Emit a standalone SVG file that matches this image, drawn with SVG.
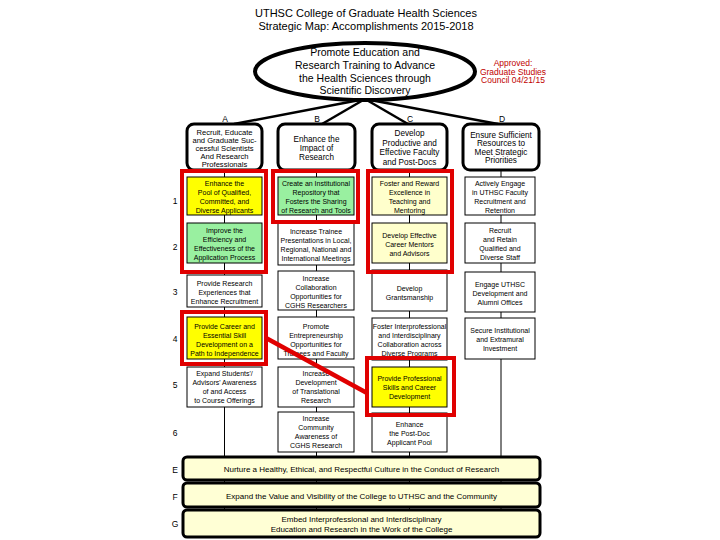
<svg xmlns="http://www.w3.org/2000/svg" width="720" height="540" viewBox="0 0 720 540">
<style>
text{font-family:"Liberation Sans",Arial,sans-serif;fill:#000;text-anchor:middle}
.t{font-size:11px}
.g{font-size:10.5px}
.h{font-size:8.2px}
.hs{font-size:7.6px}
.b{font-size:7px}
.lbl{font-size:8.5px}
.bar{font-size:8px}
.appr{font-size:8.5px;fill:#c00000}
.hdr{fill:#fff;stroke:#000;stroke-width:3}
.box{fill:#fff;stroke:#000;stroke-width:1}
.yel{fill:#ffff00}
.grn{fill:#99f0a0}
.ltY{fill:#ffffcc}
.barR{fill:#ffffd5;stroke:#000;stroke-width:3}
.red{fill:none;stroke:#e00000;stroke-width:4}
.fan{stroke:#000;stroke-width:2.5}
.vl{stroke:#000;stroke-width:1}
</style>
<rect width="720" height="540" fill="#fff"/>
<g id="title">
<text class="t" x="366" y="17">UTHSC College of Graduate Health Sciences</text>
<text class="t" x="366" y="30">Strategic Map: Accomplishments 2015-2018</text>
</g>
<g id="approved">
<text class="appr" x="513" y="66">Approved:</text>
<text class="appr" x="513" y="74.5">Graduate Studies</text>
<text class="appr" x="513" y="83">Council 04/21/15</text>
</g>
<g id="connectors">
<line class="fan" x1="365" y1="99" x2="234" y2="124"/>
<line class="fan" x1="365" y1="99" x2="322" y2="124"/>
<line class="fan" x1="365" y1="99" x2="408" y2="124"/>
<line class="fan" x1="365" y1="99" x2="498" y2="124"/>
<line class="vl" x1="224.5" y1="170" x2="224.5" y2="510"/>
<line class="vl" x1="316.5" y1="170" x2="316.5" y2="510"/>
<line class="vl" x1="409.5" y1="170" x2="409.5" y2="510"/>
<line class="vl" x1="501" y1="170" x2="501" y2="510"/>
</g>
<g id="goal">
<ellipse cx="365" cy="71.5" rx="110" ry="28.5" fill="#fff" stroke="#000" stroke-width="4"/>
<text class="g" x="365" y="56">Promote Education and</text>
<text class="g" x="365" y="69">Research Training to Advance</text>
<text class="g" x="365" y="81.5">the Health Sciences through</text>
<text class="g" x="365" y="94">Scientific Discovery</text>
</g>
<g id="labels">
<text class="lbl" x="225" y="122">A</text>
<text class="lbl" x="317" y="122">B</text>
<text class="lbl" x="410" y="122">C</text>
<text class="lbl" x="502" y="122">D</text>
<text class="lbl" x="175" y="204">1</text>
<text class="lbl" x="175" y="250">2</text>
<text class="lbl" x="175" y="295">3</text>
<text class="lbl" x="175" y="342">4</text>
<text class="lbl" x="175" y="388">5</text>
<text class="lbl" x="175" y="436">6</text>
<text class="lbl" x="175" y="473">E</text>
<text class="lbl" x="175" y="500">F</text>
<text class="lbl" x="175" y="527">G</text>
</g>
<g id="headA"><rect class="hdr" x="187" y="124" width="75" height="46" rx="7"/>
<text class="hs" x="224.5" y="135">Recruit, Educate</text><text class="hs" x="224.5" y="143">and Graduate Suc-</text><text class="hs" x="224.5" y="151">cessful Scientists</text><text class="hs" x="224.5" y="159">And Research</text><text class="hs" x="224.5" y="167">Professionals</text></g>
<g id="headB"><rect class="hdr" x="278" y="124" width="77" height="46" rx="7"/>
<text class="h" x="316.5" y="142">Enhance the</text><text class="h" x="316.5" y="151">Impact of</text><text class="h" x="316.5" y="160">Research</text></g>
<g id="headC"><rect class="hdr" x="372" y="124" width="75" height="46" rx="7"/>
<text class="h" x="409.5" y="136">Develop</text><text class="h" x="409.5" y="145.5">Productive and</text><text class="h" x="409.5" y="155">Effective Faculty</text><text class="h" x="409.5" y="164.5">and Post-Docs</text></g>
<g id="headD"><rect class="hdr" x="463" y="124" width="76" height="46" rx="7"/>
<text class="h" x="501" y="137.5">Ensure Sufficient</text><text class="h" x="501" y="146">Resources to</text><text class="h" x="501" y="154.5">Meet Strategic</text><text class="h" x="501" y="163">Priorities</text></g>

<g id="A1"><rect class="box yel" x="187" y="177" width="75" height="38"/>
<text class="b" x="224.5" y="186">Enhance the</text><text class="b" x="224.5" y="195">Pool of Qualified,</text><text class="b" x="224.5" y="204">Committed, and</text><text class="b" x="224.5" y="213">Diverse Applicants</text></g>
<g id="B1"><rect class="box grn" x="278" y="177" width="76" height="38"/>
<text class="b" x="316" y="186">Create an Institutional</text><text class="b" x="316" y="195">Repository that</text><text class="b" x="316" y="204">Fosters the Sharing</text><text class="b" x="316" y="213">of Research and Tools</text></g>
<g id="C1"><rect class="box ltY" x="372" y="177" width="75" height="38"/>
<text class="b" x="409.5" y="186">Foster and Reward</text><text class="b" x="409.5" y="195">Excellence in</text><text class="b" x="409.5" y="204">Teaching and</text><text class="b" x="409.5" y="213">Mentoring</text></g>
<g id="D1"><rect class="box" x="465" y="177" width="70" height="38"/>
<text class="b" x="500" y="186">Actively Engage</text><text class="b" x="500" y="195">in UTHSC Faculty</text><text class="b" x="500" y="204">Recruitment and</text><text class="b" x="500" y="213">Retention</text></g>

<g id="A2"><rect class="box grn" x="187" y="223" width="75" height="40"/>
<text class="b" x="224.5" y="233">Improve the</text><text class="b" x="224.5" y="242">Efficiency and</text><text class="b" x="224.5" y="251">Effectiveness of the</text><text class="b" x="224.5" y="260">Application Process</text></g>
<g id="B2"><rect class="box" x="278" y="223" width="76" height="42"/>
<text class="b" x="316" y="234">Increase Trainee</text><text class="b" x="316" y="243">Presentations in Local,</text><text class="b" x="316" y="252">Regional, National and</text><text class="b" x="316" y="261">International Meetings</text></g>
<g id="C2"><rect class="box ltY" x="372" y="223" width="75" height="40"/>
<text class="b" x="409.5" y="238">Develop Effective</text><text class="b" x="409.5" y="247">Career Mentors</text><text class="b" x="409.5" y="256">and Advisors</text></g>
<g id="D2"><rect class="box" x="465" y="223" width="70" height="40"/>
<text class="b" x="500" y="233">Recruit</text><text class="b" x="500" y="242">and  Retain</text><text class="b" x="500" y="251">Qualified and</text><text class="b" x="500" y="260">Diverse Staff</text></g>

<g id="A3"><rect class="box" x="187" y="275" width="75" height="32"/>
<text class="b" x="224.5" y="286">Provide Research</text><text class="b" x="224.5" y="295">Experiences that</text><text class="b" x="224.5" y="304">Enhance Recruitment</text></g>
<g id="B3"><rect class="box" x="278" y="271" width="76" height="39"/>
<text class="b" x="316" y="281">Increase</text><text class="b" x="316" y="290">Collaboration</text><text class="b" x="316" y="299">Opportunities for</text><text class="b" x="316" y="308">CGHS Researchers</text></g>
<g id="C3"><rect class="box" x="372" y="270" width="75" height="41"/>
<text class="b" x="409.5" y="290.5">Develop</text><text class="b" x="409.5" y="299.5">Grantsmanship</text></g>
<g id="D3"><rect class="box" x="465" y="272" width="70" height="40"/>
<text class="b" x="500" y="286.5">Engage UTHSC</text><text class="b" x="500" y="295.5">Development and</text><text class="b" x="500" y="304.5">Alumni Offices</text></g>

<g id="A4"><rect class="box yel" x="187" y="317" width="75" height="42"/>
<text class="b" x="224.5" y="328.5">Provide Career and</text><text class="b" x="224.5" y="337.5">Essential Skill</text><text class="b" x="224.5" y="346.5">Development on a</text><text class="b" x="224.5" y="355.5">Path to Independence</text></g>
<g id="B4"><rect class="box" x="278" y="317" width="76" height="42"/>
<text class="b" x="316" y="328.5">Promote</text><text class="b" x="316" y="337.5">Entrepreneurship</text><text class="b" x="316" y="346.5">Opportunities for</text><text class="b" x="316" y="355.5">Trainees and Faculty</text></g>
<g id="C4"><rect class="box" x="372" y="318" width="75" height="42"/>
<text class="b" x="409.5" y="329">Foster Interprofessional</text><text class="b" x="409.5" y="338">and Interdisciplinary</text><text class="b" x="409.5" y="347">Collaboration across</text><text class="b" x="409.5" y="356">Diverse Programs</text></g>
<g id="D4"><rect class="box" x="465" y="318" width="70" height="41"/>
<text class="b" x="500" y="332.5">Secure Institutional</text><text class="b" x="500" y="341.5">and Extramural</text><text class="b" x="500" y="350.5">Investment</text></g>

<g id="A5"><rect class="box" x="187" y="367" width="75" height="40"/>
<text class="b" x="224.5" y="375.5">Expand Students'/</text><text class="b" x="224.5" y="384.5">Advisors' Awareness</text><text class="b" x="224.5" y="393.5">of and Access</text><text class="b" x="224.5" y="402.5">to Course Offerings</text></g>
<g id="B5"><rect class="box" x="278" y="367" width="76" height="40"/>
<text class="b" x="316" y="375.5">Increase</text><text class="b" x="316" y="384.5">Development</text><text class="b" x="316" y="393.5">of Translational</text><text class="b" x="316" y="402.5">Research</text></g>
<g id="C5"><rect class="box yel" x="372" y="367" width="75" height="40"/>
<text class="b" x="409.5" y="381">Provide Professional</text><text class="b" x="409.5" y="390">Skills and Career</text><text class="b" x="409.5" y="399">Development</text></g>

<g id="B6"><rect class="box" x="278" y="412" width="76" height="40"/>
<text class="b" x="316" y="421">Increase</text><text class="b" x="316" y="430">Community</text><text class="b" x="316" y="439">Awareness of</text><text class="b" x="316" y="448">CGHS Research</text></g>
<g id="C6"><rect class="box" x="372" y="413" width="75" height="39"/>
<text class="b" x="409.5" y="427">Enhance</text><text class="b" x="409.5" y="436">the Post-Doc</text><text class="b" x="409.5" y="445">Applicant Pool</text></g>

<g id="E"><rect class="barR" x="183" y="457" width="357" height="23" rx="4"/>
<text class="bar" x="361.5" y="471.5">Nurture a Healthy, Ethical, and Respectful Culture in the Conduct of Research</text></g>
<g id="F"><rect class="barR" x="183" y="483" width="357" height="24" rx="4"/>
<text class="bar" x="361.5" y="498.5">Expand the Value and Visibility of the College to UTHSC and the Community</text></g>
<g id="G"><rect class="barR" x="183" y="510" width="357" height="27" rx="4"/>
<text class="bar" x="361.5" y="522">Embed Interprofessional and Interdisciplinary</text>
<text class="bar" x="361.5" y="532">Education and Research in the Work of the College</text></g>

<g id="highlights">
<rect class="red" x="182" y="171" width="84" height="101"/>
<rect class="red" x="273" y="171" width="85" height="51"/>
<rect class="red" x="368" y="171" width="84" height="101"/>
<rect class="red" x="182" y="312" width="84" height="52"/>
<rect class="red" x="367" y="358" width="87" height="57"/>
<line x1="266" y1="338" x2="367" y2="393" stroke="#e00000" stroke-width="4.5"/>
</g>
</svg>
